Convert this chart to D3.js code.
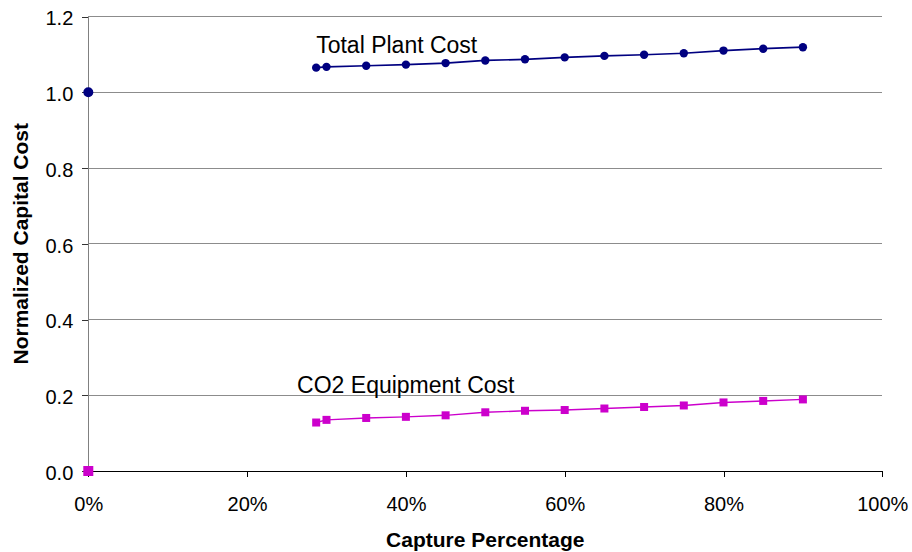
<!DOCTYPE html>
<html>
<head>
<meta charset="utf-8">
<script src="https://cdn.jsdelivr.net/npm/d3@7"></script>
<style>
  html, body { margin: 0; padding: 0; background: #fff; }
  svg { display: block; font-family: "Liberation Sans", Arial, sans-serif; }
</style>
</head>
<body>
<svg id="chart" width="912" height="552"></svg>
<script>
// ---- data ----
const capture = [0.287, 0.30, 0.35, 0.40, 0.45, 0.50, 0.55, 0.60, 0.65, 0.70, 0.75, 0.80, 0.85, 0.90];
const totalPlantCost = [1.065, 1.067, 1.070, 1.073, 1.077, 1.084, 1.087, 1.092, 1.096, 1.099, 1.103, 1.110, 1.115, 1.119];
const co2EquipmentCost = [0.128, 0.135, 0.140, 0.143, 0.147, 0.155, 0.159, 0.161, 0.165, 0.169, 0.173, 0.181, 0.185, 0.189];
const baseCapture = [0];
const baseTotal = [1.0];
const baseCO2 = [0.0];
const xTicks = [0, 0.2, 0.4, 0.6, 0.8, 1.0];
const yTicks = [0, 0.2, 0.4, 0.6, 0.8, 1.0, 1.2];
const labelTotal = { text: "Total Plant Cost", x: 0.287, y: 1.103 };
const labelCO2 = { text: "CO2 Equipment Cost", x: 0.263, y: 0.2065 };
const xTitle = "Capture Percentage";
const yTitle = "Normalized Capital Cost";

(function () {
// ---- layout ----
const svg = d3.select("#chart");
const mLeft = 88.3, mRight = 882.3, mTop = 16.5, mBottom = 471;
const x = d3.scaleLinear().domain([0, 1]).range([mLeft, mRight]);
const y = d3.scaleLinear().domain([0, 1.2]).range([mBottom, mTop]);

const navy = "#000080", magenta = "#cc00cc";

// gridlines
svg.append("g").selectAll("line").data(yTicks.filter(d => d > 0)).join("line")
  .attr("x1", mLeft).attr("x2", mRight)
  .attr("y1", d => y(d)).attr("y2", d => y(d))
  .attr("stroke", "#8c8c8c").attr("stroke-width", 1).attr("shape-rendering", "crispEdges");

// y axis
const yAxis = svg.append("g").attr("transform", `translate(${mLeft},0)`)
  .call(d3.axisLeft(y).tickValues(yTicks).tickFormat(d3.format(".1f")).tickSize(6).tickPadding(9));
yAxis.select(".domain").attr("stroke", "#808080").attr("shape-rendering", "crispEdges");
yAxis.selectAll(".tick line").attr("stroke", "#333").attr("shape-rendering", "crispEdges");
yAxis.selectAll("text").attr("font-size", 20).attr("fill", "#000").attr("dy", "0.42em")
  .attr("font-family", '"Liberation Sans", Arial, sans-serif');

// x axis
const xAxis = svg.append("g").attr("transform", `translate(0,${mBottom})`)
  .call(d3.axisBottom(x).tickValues(xTicks).tickFormat(d3.format(".0%")).tickSize(6).tickPadding(0));
xAxis.select(".domain").attr("stroke", "#000").attr("shape-rendering", "crispEdges");
xAxis.selectAll(".tick line").attr("stroke", "#000").attr("shape-rendering", "crispEdges");
xAxis.selectAll("text").attr("font-size", 20).attr("fill", "#000")
  .attr("dy", null).attr("y", 40)
  .attr("font-family", '"Liberation Sans", Arial, sans-serif');

// lines
const line = d3.line().x(d => x(d[0])).y(d => y(d[1]));
const totalPts = capture.map((c, i) => [c, totalPlantCost[i]]);
const co2Pts = capture.map((c, i) => [c, co2EquipmentCost[i]]);

svg.append("path").datum(totalPts).attr("d", line)
  .attr("fill", "none").attr("stroke", navy).attr("stroke-width", 1.7);
svg.append("path").datum(co2Pts).attr("d", line)
  .attr("fill", "none").attr("stroke", magenta).attr("stroke-width", 1.4);

// markers
const basePtsTotal = baseCapture.map((c, i) => [c, baseTotal[i]]);
const basePtsCO2 = baseCapture.map((c, i) => [c, baseCO2[i]]);

svg.append("g").selectAll("circle").data(totalPts).join("circle")
  .attr("cx", d => x(d[0])).attr("cy", d => y(d[1])).attr("r", 4.2)
  .attr("fill", navy);
svg.append("g").selectAll("circle").data(basePtsTotal).join("circle")
  .attr("cx", d => x(d[0])).attr("cy", d => y(d[1])).attr("r", 5)
  .attr("fill", navy);

const sq = 8, sqBase = 10;
svg.append("g").selectAll("rect").data(co2Pts).join("rect")
  .attr("x", d => x(d[0]) - sq / 2).attr("y", d => y(d[1]) - sq / 2)
  .attr("width", sq).attr("height", sq)
  .attr("fill", magenta);
svg.append("g").selectAll("rect").data(basePtsCO2).join("rect")
  .attr("x", d => x(d[0]) - sqBase / 2).attr("y", d => y(d[1]) - sqBase / 2)
  .attr("width", sqBase).attr("height", sqBase)
  .attr("fill", magenta);

// series labels
[labelTotal, labelCO2].forEach(l => {
  svg.append("text").attr("x", x(l.x)).attr("y", y(l.y))
    .attr("font-size", 23).attr("fill", "#000").text(l.text);
});

// axis titles
svg.append("text").attr("x", (mLeft + mRight) / 2).attr("y", 547)
  .attr("text-anchor", "middle").attr("font-size", 21).attr("font-weight", "bold")
  .text(xTitle);
svg.append("text").attr("transform", `translate(27.5,${(mTop + mBottom) / 2}) rotate(-90)`)
  .attr("text-anchor", "middle").attr("font-size", 21).attr("font-weight", "bold")
  .text(yTitle);
})();
</script>
</body>
</html>
